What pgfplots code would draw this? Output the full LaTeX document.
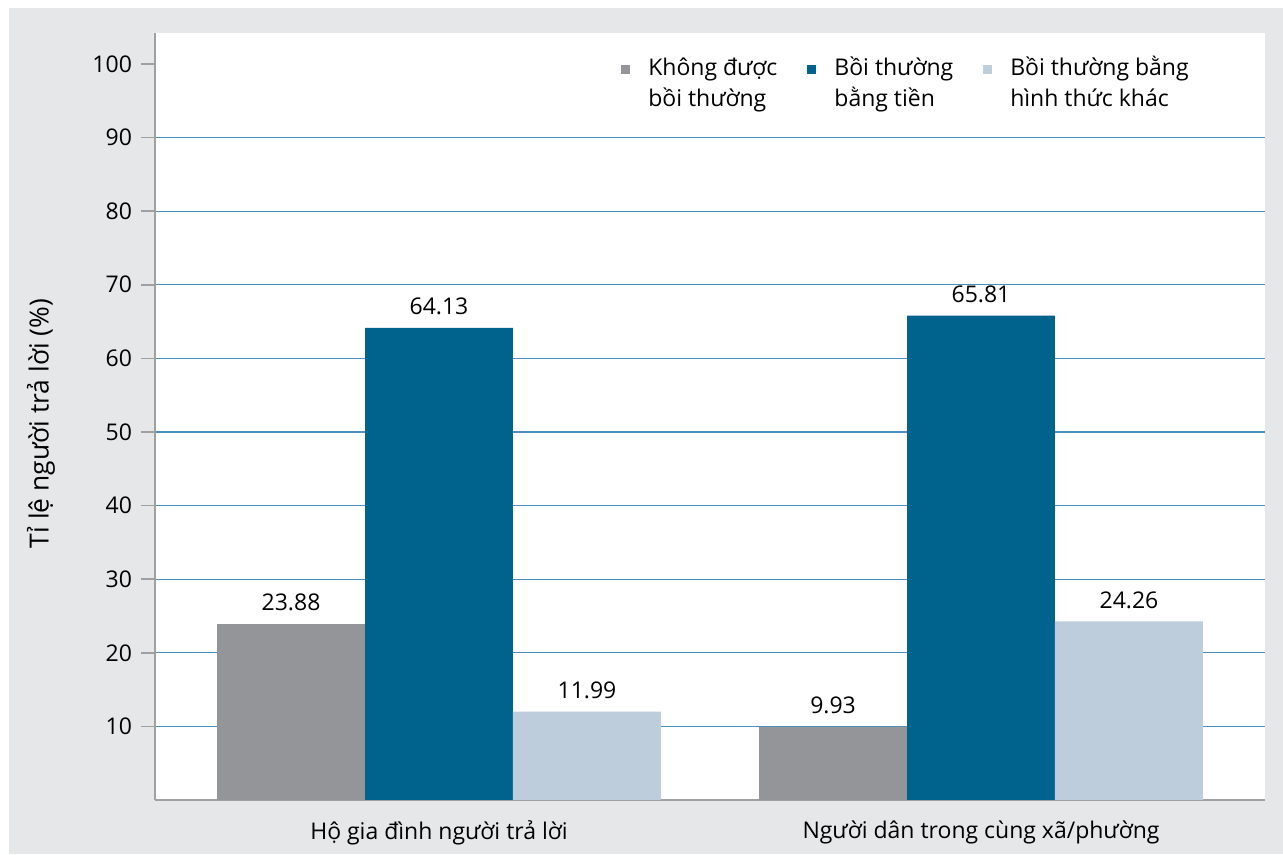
\documentclass[border=0pt]{standalone}
\usepackage{fontspec}
\setmainfont{Open Sans}
\usepackage{pgfplots}
\pgfplotsset{compat=1.18}
\definecolor{bggrey}{RGB}{230,231,232}
\definecolor{cgrey}{RGB}{147,149,152}
\definecolor{cblue}{RGB}{0,99,141}
\definecolor{clight}{RGB}{189,205,220}
\definecolor{gridblue}{RGB}{74,144,190}
\definecolor{axgrey}{RGB}{160,160,160}
\begin{document}
\begin{tikzpicture}
\fill[white] (-77.5pt,-27.5pt) rectangle (564pt,400pt);
\fill[bggrey] (-73pt,-27pt) rectangle (564pt,396pt);
\begin{axis}[
 at={(0,0)}, anchor=south west,
 scale only axis, width=555pt, height=383.5pt,
 font=\fontsize{11.5pt}{14pt}\selectfont,
 /pgf/number format/assume math mode=true,
 ybar=0pt, bar width=0.273,
 xmin=-0.524, xmax=1.524, ymin=0, ymax=104.2,
 xtick={0,1}, xticklabels={Hộ gia đình người trả lời, Người dân trong cùng xã/phường},
 x tick style={draw=none},
 xticklabel style={yshift=0pt},
 ytick={10,20,...,90}, extra y ticks={100}, extra y tick style={grid=none},
 ymajorgrids, grid style={gridblue, line width=0.6pt},
 axis x line*=bottom, axis y line*=left,
 axis line style={axgrey, line width=0.8pt, -},
 y tick style={axgrey, line width=0.8pt},
 tick align=outside, major tick length=7pt,
 yticklabel style={xshift=-1pt},
 axis background/.style={fill=white},
 ylabel={Tỉ lệ người trả lời (\%)},
 every axis y label/.style={at={(axis description cs:-0.1027,0.4909)}, rotate=90, anchor=center, font=\fontsize{13.2pt}{16pt}\selectfont},
 nodes near coords={\pgfmathprintnumber[fixed,fixed zerofill,precision=2]{\pgfplotspointmeta}},
 nodes near coords style={font=\fontsize{11.5pt}{14pt}\selectfont, text=black, anchor=south, yshift=3pt},
 every axis plot post/.append style={legend image code/.code={\fill[#1] (0pt,4.75pt) rectangle (4.5pt,9.25pt);}},
 legend style={draw=none, fill=none, at={(rel axis cs:0.4197,0.975)}, anchor=north west, inner sep=0pt,
   legend columns=3, font=\fontsize{11.5pt}{15.5pt}\selectfont,
   nodes={align=left, inner sep=2pt},
   /tikz/every odd column/.append style={column sep=7pt},
   /tikz/every even column/.append style={column sep=13pt}},
 legend cell align=left,
]
\addplot[fill=cgrey, draw=none] coordinates {(0,23.88) (1,9.93)};
\addplot[fill=cblue, draw=none] coordinates {(0,64.13) (1,65.81)};
\addplot[fill=clight, draw=none] coordinates {(0,11.99) (1,24.26)};
\legend{{Không được\\bồi thường},{Bồi thường\\bằng tiền},{Bồi thường bằng\\hình thức khác}}
\end{axis}
\pgfresetboundingbox
\path (-77.5pt,-27.5pt) rectangle (564pt,400pt);
\end{tikzpicture}
\end{document}
